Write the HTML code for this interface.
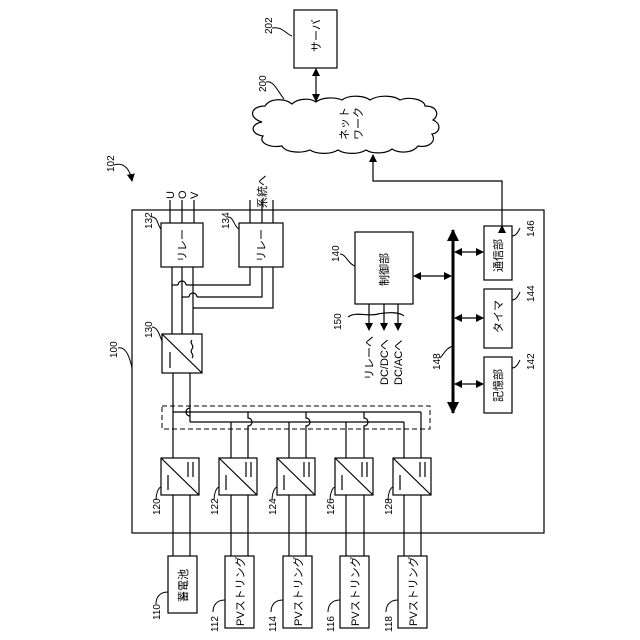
<!DOCTYPE html>
<html><head><meta charset="utf-8"><style>
html,body{margin:0;padding:0;background:#fff}
svg{display:block}
text{font-family:"Liberation Sans","Noto Sans CJK JP",sans-serif;fill:#000}
</style></head><body>
<svg width="640" height="640" viewBox="0 0 640 640" xmlns="http://www.w3.org/2000/svg">
<defs>
<marker id="ah" markerWidth="8" markerHeight="8" refX="7" refY="4" orient="auto" markerUnits="userSpaceOnUse"><path d="M0,0 L8,4 L0,8 z" fill="#000"/></marker>
<marker id="as" markerWidth="8" markerHeight="8" refX="1" refY="4" orient="auto" markerUnits="userSpaceOnUse"><path d="M8,0 L0,4 L8,8 z" fill="#000"/></marker>
<marker id="bh" markerWidth="12" markerHeight="12" refX="11" refY="6" orient="auto" markerUnits="userSpaceOnUse"><path d="M0,0 L12,6 L0,12 z" fill="#000"/></marker>
<marker id="bs" markerWidth="12" markerHeight="12" refX="1" refY="6" orient="auto" markerUnits="userSpaceOnUse"><path d="M12,0 L0,6 L12,12 z" fill="#000"/></marker>
</defs>
<g stroke="#000" stroke-width="1.2" fill="none">
<!-- main box -->
<rect x="132" y="210" width="412" height="323"/>
<!-- server -->
<rect x="294" y="10" width="43" height="58" fill="#fff"/>
<line x1="316" y1="69" x2="316" y2="101" marker-start="url(#as)" marker-end="url(#ah)"/>
<!-- cloud -->
<path d="M262,122 C248,118 250,106 265,106 C270,98 285,98 292,104 C298,98 310,98 316,102 C322,97 335,97 342,100 C350,94 365,96 370,100 C380,94 395,96 400,100 C410,96 425,100 425,106 C437,106 440,115 433,120 C442,124 440,133 432,134 C437,142 428,148 418,146 C412,154 398,153 392,149 C386,154 372,154 366,150 C358,155 344,154 338,150 C330,155 316,154 310,150 C300,154 285,152 282,146 C270,148 258,143 263,136 C250,134 250,124 262,122 Z" fill="#fff"/>
<polyline points="502,226 502,181 373,181 373,155" marker-start="url(#ah)" marker-end="url(#ah)"/>
<!-- U O V lines -->
<line x1="170" y1="200" x2="170" y2="223"/><line x1="182" y1="200" x2="182" y2="223"/><line x1="194" y1="200" x2="194" y2="223"/>
<line x1="250" y1="200" x2="250" y2="223"/><line x1="262" y1="200" x2="262" y2="223"/><line x1="273" y1="200" x2="273" y2="223"/>
<rect x="161" y="223" width="42" height="44"/>
<rect x="239" y="223" width="44" height="44"/>
<!-- relay to converter -->
<line x1="172" y1="267" x2="172" y2="334"/><line x1="182" y1="267" x2="182" y2="334"/><line x1="193" y1="267" x2="193" y2="334"/>
<polyline points="250,267 250,285 186,285"/><path d="M186,285 a4,4 0 0 0 -8,0"/><line x1="178" y1="285" x2="172" y2="285"/>
<polyline points="262,267 262,297 197,297"/><path d="M197,297 a4,4 0 0 0 -8,0"/><line x1="189" y1="297" x2="182" y2="297"/>
<polyline points="273,267 273,308 193,308"/>
<!-- converter 130 -->
<rect x="162" y="334" width="40" height="39"/>
<line x1="162" y1="334" x2="202" y2="373"/>
<line x1="170" y1="352" x2="170" y2="368"/>
<path d="M192,340 c-3,3 3,6 0,9 c-3,3 3,6 0,9"/>
<line x1="173" y1="373" x2="173" y2="458"/>
<line x1="190" y1="373" x2="190" y2="422"/>
<!-- dashed -->
<rect x="162" y="406" width="268" height="23" stroke-dasharray="5,3" stroke-width="1"/>
<!-- buses -->
<line x1="173" y1="412" x2="421" y2="412"/>
<line x1="190" y1="422" x2="404" y2="422"/>
<line x1="231" y1="422" x2="231" y2="458"/><line x1="289" y1="422" x2="289" y2="458"/><line x1="346" y1="422" x2="346" y2="458"/><line x1="404" y1="422" x2="404" y2="458"/>
<path d="M248,412 V418 a4,4 0 0 1 0,8 V458"/>
<path d="M306,412 V418 a4,4 0 0 1 0,8 V458"/>
<path d="M364,412 V418 a4,4 0 0 1 0,8 V458"/>
<line x1="421" y1="412" x2="421" y2="458"/>
<path d="M190,408 a4,4 0 0 0 0,8"/>
<!-- converters -->
<g id="cv"><rect x="161" y="458" width="38" height="37"/><line x1="161" y1="458" x2="199" y2="495"/><line x1="168" y1="475" x2="168" y2="490"/><line x1="188" y1="462" x2="188" y2="477"/><line x1="193" y1="462" x2="193" y2="477"/></g>
<use href="#cv" x="58"/><use href="#cv" x="116"/><use href="#cv" x="174"/><use href="#cv" x="232"/>
<!-- lower lines -->
<line x1="173" y1="495" x2="173" y2="556"/><line x1="190" y1="495" x2="190" y2="556"/>
<line x1="231" y1="495" x2="231" y2="556"/><line x1="248" y1="495" x2="248" y2="556"/>
<line x1="289" y1="495" x2="289" y2="556"/><line x1="306" y1="495" x2="306" y2="556"/>
<line x1="346" y1="495" x2="346" y2="556"/><line x1="364" y1="495" x2="364" y2="556"/>
<line x1="404" y1="495" x2="404" y2="556"/><line x1="421" y1="495" x2="421" y2="556"/>
<rect x="168" y="556" width="29" height="57"/>
<rect x="225" y="556" width="29" height="72"/>
<rect x="283" y="556" width="29" height="72"/>
<rect x="340" y="556" width="29" height="72"/>
<rect x="398" y="556" width="29" height="72"/>
<!-- control -->
<rect x="355" y="232" width="58" height="72"/>
<line x1="369" y1="304" x2="369" y2="330" marker-end="url(#ah)"/>
<line x1="384" y1="304" x2="384" y2="330" marker-end="url(#ah)"/>
<line x1="398" y1="304" x2="398" y2="330" marker-end="url(#ah)"/>
<path d="M348,317 c8,-6 20,0 30,-3 c10,-2 22,-2 26,2"/>
<line x1="414" y1="276" x2="451" y2="276" marker-start="url(#as)" marker-end="url(#ah)"/>
<line x1="453" y1="230" x2="453" y2="413" stroke-width="3" marker-start="url(#bs)" marker-end="url(#bh)"/>
<line x1="455" y1="252" x2="483" y2="252" marker-start="url(#as)" marker-end="url(#ah)"/>
<line x1="455" y1="318" x2="483" y2="318" marker-start="url(#as)" marker-end="url(#ah)"/>
<line x1="455" y1="384" x2="483" y2="384" marker-start="url(#as)" marker-end="url(#ah)"/>
<rect x="484" y="226" width="28" height="54"/>
<rect x="484" y="289" width="28" height="59"/>
<rect x="484" y="357" width="28" height="56"/>
<!-- leaders -->
<path d="M272,28 c10,-2 14,6 20,8" stroke-width="1"/>
<path d="M266,82 c8,-2 12,10 18,17" stroke-width="1"/>
<path d="M114,165 c10,-3 16,4 18,16" stroke-width="1" marker-end="url(#ah)"/>
<path d="M118,348 c8,-2 12,10 14,20" stroke-width="1"/>
<path d="M152,327 c6,0 8,10 10,14" stroke-width="1"/>
<path d="M152,217 c6,0 6,10 9,12" stroke-width="1"/>
<path d="M228,217 c6,0 6,10 11,12" stroke-width="1"/>
<path d="M340,254 c6,0 8,10 15,12" stroke-width="1"/>
<path d="M440,358 c4,-4 6,-10 13,-12" stroke-width="1"/>
<path d="M520,228 c-2,4 -4,8 -8,8" stroke-width="1"/>
<path d="M520,292 c-2,4 -4,8 -8,8" stroke-width="1"/>
<path d="M520,360 c-2,4 -4,8 -8,8" stroke-width="1"/>
<path d="M156,500 c0,-6 2,-12 5,-13" stroke-width="1"/>
<path d="M214,500 c0,-6 2,-12 5,-13" stroke-width="1"/>
<path d="M272,500 c0,-6 2,-12 5,-13" stroke-width="1"/>
<path d="M330,500 c0,-6 2,-12 5,-13" stroke-width="1"/>
<path d="M388,500 c0,-6 2,-12 5,-13" stroke-width="1"/>
<path d="M156,604 c0,-6 3,-12 12,-12" stroke-width="1"/>
<path d="M213,612 c0,-6 3,-12 12,-12" stroke-width="1"/>
<path d="M271,612 c0,-6 3,-12 12,-12" stroke-width="1"/>
<path d="M328,612 c0,-6 3,-12 12,-12" stroke-width="1"/>
<path d="M386,612 c0,-6 3,-12 12,-12" stroke-width="1"/>
</g>
<g font-size="10">
<text transform="translate(272,34) rotate(-90)">202</text>
<text transform="translate(266,92) rotate(-90)">200</text>
<text transform="translate(114,172) rotate(-90)">102</text>
<text transform="translate(117,358) rotate(-90)">100</text>
<text transform="translate(152,338) rotate(-90)">130</text>
<text transform="translate(152,229) rotate(-90)">132</text>
<text transform="translate(229,229) rotate(-90)">134</text>
<text transform="translate(339,262) rotate(-90)">140</text>
<text transform="translate(341,330) rotate(-90)">150</text>
<text transform="translate(440,370) rotate(-90)">148</text>
<text transform="translate(534,237) rotate(-90)">146</text>
<text transform="translate(534,302) rotate(-90)">144</text>
<text transform="translate(534,370) rotate(-90)">142</text>
<text transform="translate(160,515) rotate(-90)">120</text>
<text transform="translate(218,515) rotate(-90)">122</text>
<text transform="translate(276,515) rotate(-90)">124</text>
<text transform="translate(334,515) rotate(-90)">126</text>
<text transform="translate(392,515) rotate(-90)">128</text>
<text transform="translate(160,620) rotate(-90)">110</text>
<text transform="translate(218,632) rotate(-90)">112</text>
<text transform="translate(276,632) rotate(-90)">114</text>
<text transform="translate(334,632) rotate(-90)">116</text>
<text transform="translate(392,632) rotate(-90)">118</text>
</g>
<g font-size="11">
<text transform="translate(320,52) rotate(-90)">サーバ</text>
<text transform="translate(348,140) rotate(-90)">ネット</text>
<text transform="translate(362,140) rotate(-90)">ワーク</text>
<text transform="translate(174,199) rotate(-90)">U</text>
<text transform="translate(186,199) rotate(-90)">O</text>
<text transform="translate(198,199) rotate(-90)">V</text>
<text transform="translate(266,208) rotate(-90)">系統へ</text>
<text transform="translate(186,262) rotate(-90)">リレー</text>
<text transform="translate(265,262) rotate(-90)">リレー</text>
<text transform="translate(388,286) rotate(-90)">制御部</text>
<text transform="translate(373,380) rotate(-90)">リレーへ</text>
<text transform="translate(388,385) rotate(-90)">DC/DCへ</text>
<text transform="translate(402,385) rotate(-90)">DC/ACへ</text>
<text transform="translate(502,272) rotate(-90)">通信部</text>
<text transform="translate(502,333) rotate(-90)">タイマ</text>
<text transform="translate(502,402) rotate(-90)">記憶部</text>
<text transform="translate(187,602) rotate(-90)">蓄電池</text>
<text transform="translate(244,626) rotate(-90)">PVストリング</text>
<text transform="translate(302,626) rotate(-90)">PVストリング</text>
<text transform="translate(359,626) rotate(-90)">PVストリング</text>
<text transform="translate(417,626) rotate(-90)">PVストリング</text>
</g>
</svg>
</body></html>
